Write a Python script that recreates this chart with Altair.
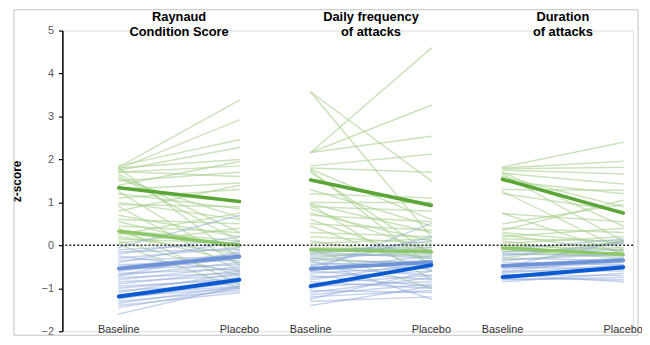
import altair as alt
import pandas as pd

panels = ["Raynaud\nCondition Score", "Daily frequency\nof attacks", "Duration\nof attacks"]
stages = ["Baseline", "Placebo"]
panel_gap = 1.59  # horizontal spacing between panels, in stage units

# ---- thin individual lines (baseline, placebo) ----
g1_base = [1.82, 1.78, 1.85, 1.75, 1.80, 1.70, 1.72, 1.65, 1.80, 1.60, 1.50, 1.40, 1.30, 1.20, 1.10, 1.00, 0.95,
           0.90, 0.80, 0.70, 0.60, 0.55, 0.45, 0.40, 0.35, 0.30, 0.25, 0.20, 0.15, 0.10, 0.05, 0.02, 1.25, 1.55]
g1_plac = [3.38, 2.92, 2.46, 2.28, 2.00, 1.85, 1.60, 0.30, -0.30, 0.10, 1.70, 1.95, 1.45, 0.85, 1.30, 0.60, 0.90,
           -0.60, 1.40, 0.20, 0.50, -0.10, 0.30, -0.90, 0.10, -0.40, 0.75, -0.20, 0.05, -0.70, 0.40, -1.00, -0.45, 0.65]
b1_base = [-0.05, -0.10, -0.15, -0.20, -0.30, -0.35, -0.40, -0.45, -0.50, -0.55, -0.60, -0.65, -0.70, -0.75, -0.80,
           -0.85, -0.90, -0.95, -1.00, -1.05, -1.10, -1.15, -1.20, -1.25, -1.30, -1.35, -1.40, -1.45, -1.60, -0.25, -0.70]
b1_plac = [0.70, 0.05, -0.10, 0.20, -0.05, -0.25, 0.10, -0.35, -0.20, -0.45, -0.30, -0.55, -0.40, -0.65, -0.50,
           -0.70, -0.60, -0.80, -0.75, -0.90, -0.65, -0.95, -1.00, -0.85, -1.05, -0.95, -1.10, -1.00, -0.95, -0.60, -0.15]

g2_base = [3.57, 3.57, 2.16, 2.16, 2.16, 1.85, 1.80, 1.77, 1.75, 1.70, 1.20, 1.00, 0.97, 0.95, 0.90, 0.75, 0.70,
           0.60, 0.50, 0.45, 0.30, 0.20, 0.10, 0.05, -0.05, -0.10, -0.15, -0.20, -0.30, -0.35, 1.30, 0.85]
g2_plac = [1.50, 0.20, 4.59, 3.26, 2.54, 2.12, 1.70, 0.60, -0.50, -0.20, 1.10, 1.00, 0.30, -0.80, 0.80, 0.10, 0.55,
           -0.40, 0.35, -0.60, 0.20, 0.05, -0.30, 0.15, -0.10, -1.00, 0.00, -0.25, -0.05, -0.40, 0.45, -0.15]
b2_base = [-0.60, -0.10, -0.15, -0.20, -0.25, -0.30, -0.35, -0.40, -0.45, -0.50, -0.55, -0.60, -0.65, -0.70, -0.75,
           -0.80, -0.85, -0.90, -0.95, -1.00, -1.05, -1.10, -1.15, -1.20, -1.25, -1.30, -1.40, -0.50, -0.35]
b2_plac = [0.51, -0.05, -0.30, 0.10, -0.20, -0.45, -0.10, -0.55, -0.35, -0.70, -0.25, -0.80, -0.50, -0.95, -0.60,
           -0.40, -1.00, -0.70, -0.85, -0.45, -1.10, -0.75, -0.90, -1.05, -0.60, -1.20, -0.95, 0.20, -1.25]

g3_base = [1.82, 1.80, 1.78, 1.75, 1.70, 1.68, 1.65, 1.60, 1.50, 1.30, 1.25, 1.20, 0.75, 0.74, 0.50, 0.40, 0.35,
           0.30, 0.25, 0.20, 0.15, 0.10, 0.05, 0.00, -0.05, -0.10, -0.15, -0.20, -0.30, -0.35]
g3_plac = [2.40, 1.96, 1.82, 1.66, 0.45, 1.43, 0.10, 0.90, 1.20, 1.28, -0.10, 0.80, -0.20, 0.55, 0.95, 0.30, 1.05,
           0.05, -0.15, 0.40, 0.10, -0.25, 0.20, -0.10, 0.05, -0.30, -0.05, -0.20, 0.10, -0.15]
b3_base = [-0.10, -0.15, -0.20, -0.25, -0.30, -0.35, -0.40, -0.45, -0.50, -0.55, -0.60, -0.65, -0.70, -0.75, -0.80,
           -0.85, -0.78, -0.72, -0.68, -0.62, -0.50]
b3_plac = [0.15, -0.10, -0.25, 0.05, -0.35, -0.20, -0.45, -0.30, -0.55, -0.40, -0.60, -0.45, -0.70, -0.55, -0.75,
           -0.65, -0.80, -0.50, -0.85, -0.30, 0.10]

# ---- thick cluster-mean lines (per panel) ----
dark_green_base = [1.34, 1.52, 1.54]
dark_green_plac = [1.02, 0.93, 0.75]
light_green_base = [0.33, -0.10, -0.06]
light_green_plac = [0.00, -0.15, -0.21]
mid_blue_base = [-0.54, -0.55, -0.48]
mid_blue_plac = [-0.26, -0.39, -0.35]
dark_blue_base = [-1.19, -0.95, -0.74]
dark_blue_plac = [-0.80, -0.46, -0.51]

thin_sets = [
    (0, "green", g1_base, g1_plac), (0, "blue", b1_base, b1_plac),
    (1, "green", g2_base, g2_plac), (1, "blue", b2_base, b2_plac),
    (2, "green", g3_base, g3_plac), (2, "blue", b3_base, b3_plac),
]
rows = []
for p, grp, base, plac in thin_sets:
    for j, (b, v) in enumerate(zip(base, plac)):
        lid = f"{p}-{grp}-{j}"
        rows.append({"id": lid, "grp": grp, "x": p * panel_gap + 0, "z": b})
        rows.append({"id": lid, "grp": grp, "x": p * panel_gap + 1, "z": v})
thin = pd.DataFrame(rows)

thick_sets = [
    ("a_light_green", light_green_base, light_green_plac),
    ("b_dark_green", dark_green_base, dark_green_plac),
    ("c_mid_blue", mid_blue_base, mid_blue_plac),
    ("d_dark_blue", dark_blue_base, dark_blue_plac),
]
rows = []
for grp, base, plac in thick_sets:
    for p in range(3):
        lid = f"{grp}-{p}"
        rows.append({"id": lid, "grp": grp, "x": p * panel_gap + 0, "z": base[p]})
        rows.append({"id": lid, "grp": grp, "x": p * panel_gap + 1, "z": plac[p]})
thick = pd.DataFrame(rows)

labels = pd.DataFrame([{"x": p * panel_gap + s, "t": stages[s]} for p in range(3) for s in range(2)])
titles = pd.DataFrame([{"x": p * panel_gap + 0.5, "t": panels[p]} for p in range(3)])

xscale = alt.Scale(domain=[-0.467, 4.262], nice=False, zero=False)
yscale = alt.Scale(domain=[-2, 5], nice=False, zero=False)

thin_green = alt.Chart(thin[thin.grp == "green"]).mark_line(
    color="#a9d18e", strokeWidth=1.5, opacity=0.6, strokeCap="round"
).encode(
    x=alt.X("x:Q", scale=xscale, axis=None),
    y=alt.Y("z:Q", scale=yscale, axis=alt.Axis(
        values=[-2, -1, 0, 1, 2, 3, 4, 5], format="d", title="z-score", grid=False,
        domainColor="black", domainWidth=1.5, tickColor="black", tickSize=4, tickWidth=1.2,
        labelColor="#595959", labelFont="Liberation Sans", labelFontSize=11, labelPadding=5,
        titleFont="Liberation Sans", titleFontSize=12, titleFontWeight="bold", titleColor="black",
        titlePadding=18)),
    detail="id:N",
)
thin_blue = alt.Chart(thin[thin.grp == "blue"]).mark_line(
    color="#8faadc", strokeWidth=1.5, opacity=0.5, strokeCap="round"
).encode(x=alt.X("x:Q", scale=xscale), y=alt.Y("z:Q", scale=yscale), detail="id:N")

thick_lines = alt.Chart(thick).mark_line(strokeCap="round").encode(
    x=alt.X("x:Q", scale=xscale),
    y=alt.Y("z:Q", scale=yscale),
    detail="id:N",
    color=alt.Color("grp:N", legend=None, scale=alt.Scale(
        domain=["a_light_green", "b_dark_green", "c_mid_blue", "d_dark_blue"],
        range=["#8cc86a", "#5aa535", "#6f93d9", "#0a5ad2"])),
    strokeWidth=alt.StrokeWidth("grp:N", legend=None, scale=alt.Scale(
        domain=["a_light_green", "b_dark_green", "c_mid_blue", "d_dark_blue"],
        range=[3.5, 4, 3.5, 4])),
)

zero_rule = alt.Chart(pd.DataFrame({"z": [0]})).mark_rule(
    color="#222222", strokeDash=[2, 2], strokeWidth=1.5
).encode(y=alt.Y("z:Q", scale=yscale))

stage_text = alt.Chart(labels).mark_text(
    font="Liberation Sans", fontSize=11, color="#333333", baseline="middle"
).encode(x=alt.X("x:Q", scale=xscale), y=alt.value(303), text="t:N")

title_text = alt.Chart(titles).mark_text(
    font="Liberation Sans", fontSize=13, fontWeight="bold", color="black",
    baseline="top", lineBreak="\n", lineHeight=16
).encode(x=alt.X("x:Q", scale=xscale), y=alt.value(-20), text="t:N")

frame = alt.Chart(pd.DataFrame({"k": [0]})).mark_rect(
    fill=None, stroke="#bfbfbf", strokeWidth=1
).encode(x=alt.value(-49), x2=alt.value(582), y=alt.value(-21), y2=alt.value(308))

chart = alt.layer(
    frame, thin_green, thin_blue, thick_lines, zero_rule, stage_text, title_text
).properties(
    width=577, height=304,
    autosize=alt.AutoSizeParams(type="none"),
    padding={"left": 55, "top": 21, "right": 9, "bottom": 4},
).configure_view(stroke=None).configure(background="white")

chart.save("out.html", embed_options={"renderer": "svg", "actions": False})
